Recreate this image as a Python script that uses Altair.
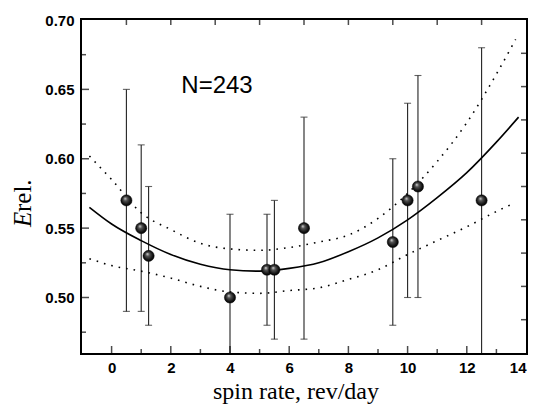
import altair as alt
import pandas as pd

# --- data ---
spin = [0.5, 1.0, 1.25, 4.0, 5.25, 5.5, 6.5, 9.5, 10.0, 10.35, 12.5]
erel = [0.57, 0.55, 0.53, 0.50, 0.52, 0.52, 0.55, 0.54, 0.57, 0.58, 0.57]
err_lo = [0.49, 0.49, 0.48, 0.44, 0.48, 0.47, 0.47, 0.48, 0.50, 0.50, 0.44]
err_hi = [0.65, 0.61, 0.58, 0.56, 0.56, 0.57, 0.63, 0.60, 0.64, 0.66, 0.68]

fit_x = [-0.75, 0, 1, 2, 3, 4, 5, 6, 7, 8, 9, 10, 11, 12, 13, 13.75]
fit_y = [0.565, 0.553, 0.541, 0.531, 0.524, 0.520, 0.519, 0.521, 0.525, 0.533,
         0.543, 0.556, 0.572, 0.590, 0.612, 0.630]

upper_x = [-0.75, 0, 1, 2, 3, 4, 5, 6, 7, 8, 9, 10, 11, 12, 13, 13.65]
upper_y = [0.602, 0.585, 0.561, 0.549, 0.539, 0.535, 0.534, 0.536, 0.540, 0.545,
           0.557, 0.575, 0.598, 0.626, 0.661, 0.686]

lower_x = [-0.75, 0, 1, 2, 3, 4, 5, 6, 7, 8, 9, 10, 11, 12, 13, 13.6]
lower_y = [0.528, 0.523, 0.519, 0.514, 0.508, 0.504, 0.503, 0.505, 0.507, 0.513,
           0.520, 0.531, 0.541, 0.551, 0.562, 0.568]

x_domain = [-1, 14]
y_domain = [0.46, 0.70]
x_labels = [0, 2, 4, 6, 8, 10, 12, 14]
x_major = [0, 2, 4, 6, 8, 10, 12]
x_minor = [1, 3, 5, 7, 9, 11, 13]
x_top = [0.5, 2, 3.5, 5, 6.5, 8, 9.5, 11, 12.5]
y_labels = [0.50, 0.55, 0.60, 0.65, 0.70]
y_major = [0.50, 0.55, 0.60, 0.65]
y_minor = [0.475, 0.525, 0.575, 0.625, 0.675]
y_right = [0.484, 0.508, 0.532, 0.556, 0.580, 0.604, 0.628, 0.652, 0.676]
annotation = "N=243"

W, H = 444, 333

xs = alt.Scale(domain=x_domain, nice=False, zero=False)
ys = alt.Scale(domain=y_domain, nice=False, zero=False)

frame_style = dict(domain=True, domainColor="black", domainWidth=2, domainCap="square",
                   grid=False, title=None)

xaxis = alt.Axis(values=x_labels, ticks=False, orient="bottom",
                 labelFont="Liberation Sans", labelFontWeight="bold", labelFontSize=15,
                 labelColor="black", labelPadding=7, labelFlush=True, **frame_style)
yaxis = alt.Axis(values=y_labels, ticks=False, orient="left", format=".2f",
                 labelFont="Liberation Sans", labelFontWeight="bold", labelFontSize=15,
                 labelColor="black", labelPadding=8, labelFlush=False, **frame_style)
xaxis_top = alt.Axis(orient="top", labels=False, ticks=False, **frame_style)
yaxis_right = alt.Axis(orient="right", labels=False, ticks=False, **frame_style)

def X(f="x"):
    return alt.X(f"{f}:Q", scale=xs, axis=xaxis, title=None)

def Y(f="y"):
    return alt.Y(f"{f}:Q", scale=ys, axis=yaxis, title=None)

pts = pd.DataFrame({"x": spin, "y": erel, "lo": err_lo, "hi": err_hi})
fit = pd.DataFrame({"x": fit_x, "y": fit_y})
up = pd.DataFrame({"x": upper_x, "y": upper_y})
lo = pd.DataFrame({"x": lower_x, "y": lower_y})

# frame drawn first as a black filled box with a white inner box on top of it:
# the outer box's thick stroke shows as the border round the plot area
box = pd.DataFrame({"x0": [x_domain[0]], "x1": [x_domain[1]],
                    "y0": [y_domain[0]], "y1": [y_domain[1]]})
outer = alt.Chart(box).mark_rect(fill="black", stroke="black", strokeWidth=4).encode(
    x=X("x0"), x2="x1:Q", y=Y("y0"), y2="y1:Q")
inner = alt.Chart(box).mark_rect(fill="white", strokeWidth=0).encode(
    x=X("x0"), x2="x1:Q", y=Y("y0"), y2="y1:Q")

errc = "#222222"
bars = alt.Chart(pts).mark_rule(color=errc, strokeWidth=1.1, clip=True).encode(
    x=X(), y=Y("lo"), y2="hi:Q")
cap_hi = alt.Chart(pts).mark_tick(color=errc, size=7, thickness=1.1, orient="horizontal", clip=True).encode(
    x=X(), y=Y("hi"))
cap_lo = alt.Chart(pts).mark_tick(color=errc, size=7, thickness=1.1, orient="horizontal", clip=True).encode(
    x=X(), y=Y("lo"))

fit_line = alt.Chart(fit).mark_line(color="black", strokeWidth=1.6, interpolate="monotone").encode(
    x=X(), y=Y())
up_line = alt.Chart(up).mark_line(color="black", strokeWidth=1.6, strokeDash=[1.6, 6],
                                   interpolate="monotone").encode(x=X(), y=Y())
lo_line = alt.Chart(lo).mark_line(color="black", strokeWidth=1.6, strokeDash=[1.6, 6],
                                   interpolate="monotone").encode(x=X(), y=Y())

sphere = {
    "gradient": "radial",
    "x1": 0.38, "y1": 0.32, "r1": 0.0,
    "x2": 0.5, "y2": 0.5, "r2": 0.55,
    "stops": [
        {"offset": 0.0, "color": "#e0e0e0"},
        {"offset": 0.3, "color": "#555555"},
        {"offset": 0.75, "color": "#111111"},
        {"offset": 1.0, "color": "#000000"},
    ],
}
points = alt.Chart(pts).mark_circle(size=125, opacity=1, fill=sphere, stroke="black",
                                    strokeWidth=0.5).encode(x=X(), y=Y())

# inward ticks: ticks centred on the frame edge, the outer half clipped away
def xticks(vals, edge_y, length):
    df = pd.DataFrame({"x": vals, "e": [edge_y] * len(vals)})
    return alt.Chart(df).mark_tick(color="black", thickness=1.5, size=2 * length,
                                   orient="vertical", clip=True).encode(x=X(), y=Y("e"))

def yticks(vals, edge_x, length):
    df = pd.DataFrame({"y": vals, "e": [edge_x] * len(vals)})
    return alt.Chart(df).mark_tick(color="black", thickness=1.5, size=2 * length,
                                   orient="horizontal", clip=True).encode(y=Y(), x=X("e"))

ticks = [
    xticks(x_major, y_domain[0], 7),
    xticks(x_minor, y_domain[0], 4),
    xticks(x_top, y_domain[1], 5),
    yticks(y_major, x_domain[0], 7),
    yticks(y_minor, x_domain[0], 4),
    yticks(y_right, x_domain[1], 5),
]

note = alt.Chart(pd.DataFrame({"t": [annotation]})).mark_text(
    font="Liberation Sans", fontSize=24, color="black", align="center", baseline="alphabetic"
).encode(text="t:N", x=alt.value(135), y=alt.value(73))

xtitle = alt.Chart(pd.DataFrame({"t": ["spin rate, rev/day"]})).mark_text(
    font="Liberation Serif", fontSize=24, color="black", align="center", baseline="alphabetic"
).encode(text="t:N", x=alt.value(W / 2 - 8), y=alt.value(H + 46))

ytitle_e = alt.Chart(pd.DataFrame({"t": ["E"]})).mark_text(
    font="Liberation Serif", fontSize=25, fontStyle="italic", color="black", angle=270,
    align="left", baseline="alphabetic"
).encode(text="t:N", x=alt.value(-51), y=alt.value(207))

ytitle_r = alt.Chart(pd.DataFrame({"t": ["rel."]})).mark_text(
    font="Liberation Serif", fontSize=25, color="black", angle=270,
    align="left", baseline="alphabetic"
).encode(text="t:N", x=alt.value(-51), y=alt.value(192))

main = alt.layer(
    outer, inner, bars, cap_hi, cap_lo, up_line, lo_line, fit_line, points, *ticks,
    note, xtitle, ytitle_e, ytitle_r
)

# invisible layer that only carries the top and right frame axes
mirror = alt.Chart(pd.DataFrame({"x": [x_domain[0]], "y": [y_domain[0]]})).mark_point(
    opacity=0).encode(
    x=alt.X("x:Q", scale=xs, axis=xaxis_top, title=None),
    y=alt.Y("y:Q", scale=ys, axis=yaxis_right, title=None))

chart = alt.layer(main, mirror).resolve_axis(
    x="independent", y="independent"
).properties(
    width=W, height=H,
    autosize=alt.AutoSizeParams(type="none"),
    padding={"left": 74, "top": 12, "right": 2, "bottom": 52},
).configure_view(stroke="black", strokeWidth=2).configure(background="white")

chart.save("out.html", embed_options={"renderer": "svg", "actions": False})
